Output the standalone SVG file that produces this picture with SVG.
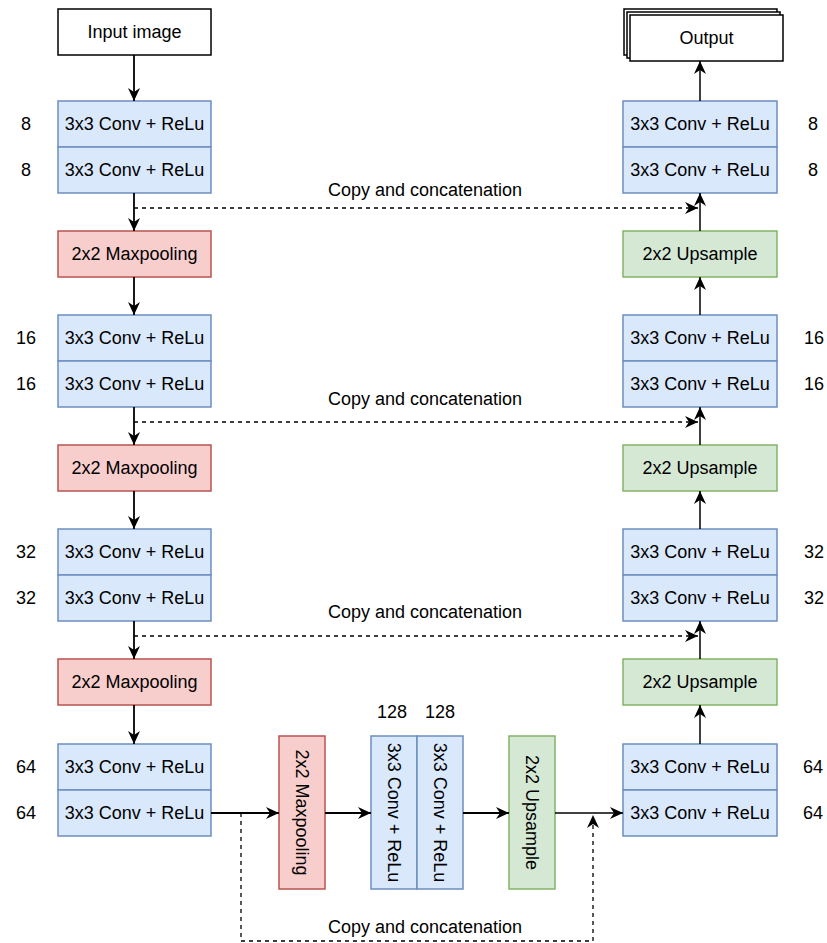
<svg xmlns="http://www.w3.org/2000/svg" width="827" height="943" viewBox="0 0 827 943">
<style>
text{font-family:"Liberation Sans",Arial,Helvetica,sans-serif;font-size:18px;fill:#000;text-anchor:middle;dominant-baseline:central}
.plain{fill:#fff;stroke:#000;stroke-width:1.5}
.blue{fill:#dae8fc;stroke:#6c8ebf;stroke-width:1.5}
.red{fill:#f8cecc;stroke:#b85450;stroke-width:1.5}
.green{fill:#d5e8d4;stroke:#82b366;stroke-width:1.5}
.ln{fill:none;stroke:#000;stroke-width:1.8}
.lnr{fill:none;stroke:#000;stroke-width:1.5}
.dash{fill:none;stroke:#000;stroke-width:1.3;stroke-dasharray:4 4}
</style>
<defs>
<marker id="arr" markerUnits="userSpaceOnUse" viewBox="0 0 14 14" markerWidth="14" markerHeight="14" refX="13" refY="7" orient="auto">
<path d="M0,1 L13,7 L0,13 L4,7 z" fill="#000"/>
</marker>
</defs>
<g id="input"><rect class="plain" x="58" y="9" width="153" height="46"/><text x="134.5" y="32">Input image</text></g>
<g id="output">
<rect class="plain" x="624" y="9" width="153" height="46"/>
<rect class="plain" x="627" y="12" width="153" height="46"/>
<rect class="plain" x="630" y="15" width="153" height="46"/>
<text x="706.5" y="38">Output</text></g>

<g id="enc1"><rect class="blue" x="58" y="101" width="153" height="46"/><text x="134.5" y="124">3x3 Conv + ReLu</text><rect class="blue" x="58" y="147" width="153" height="46"/><text x="134.5" y="170">3x3 Conv + ReLu</text><text x="26" y="124">8</text><text x="26" y="170">8</text></g>
<g id="pool1"><rect class="red" x="58" y="231" width="153" height="46"/><text x="134.5" y="254">2x2 Maxpooling</text></g>
<g id="enc2"><rect class="blue" x="58" y="315" width="153" height="46"/><text x="134.5" y="338">3x3 Conv + ReLu</text><rect class="blue" x="58" y="361" width="153" height="46"/><text x="134.5" y="384">3x3 Conv + ReLu</text><text x="26" y="338">16</text><text x="26" y="384">16</text></g>
<g id="pool2"><rect class="red" x="58" y="445" width="153" height="46"/><text x="134.5" y="468">2x2 Maxpooling</text></g>
<g id="enc3"><rect class="blue" x="58" y="529" width="153" height="46"/><text x="134.5" y="552">3x3 Conv + ReLu</text><rect class="blue" x="58" y="575" width="153" height="46"/><text x="134.5" y="598">3x3 Conv + ReLu</text><text x="26" y="552">32</text><text x="26" y="598">32</text></g>
<g id="pool3"><rect class="red" x="58" y="659" width="153" height="46"/><text x="134.5" y="682">2x2 Maxpooling</text></g>
<g id="enc4"><rect class="blue" x="58" y="744" width="153" height="46"/><text x="134.5" y="767">3x3 Conv + ReLu</text><rect class="blue" x="58" y="790" width="153" height="46"/><text x="134.5" y="813">3x3 Conv + ReLu</text><text x="26" y="767">64</text><text x="26" y="813">64</text></g>

<g id="pool4"><rect class="red" x="279" y="736" width="46" height="153"/><text x="302" y="812.5" transform="rotate(90 302 812.5)">2x2 Maxpooling</text></g>
<g id="bottleneck"><rect class="blue" x="371" y="736" width="46" height="153"/><rect class="blue" x="417" y="736" width="46" height="153"/><text x="394" y="812.5" transform="rotate(90 394 812.5)">3x3 Conv + ReLu</text><text x="440" y="812.5" transform="rotate(90 440 812.5)">3x3 Conv + ReLu</text><text x="392" y="712">128</text><text x="440" y="712">128</text></g>
<g id="up4"><rect class="green" x="509" y="736" width="46" height="153"/><text x="532" y="812.5" transform="rotate(90 532 812.5)">2x2 Upsample</text></g>

<g id="dec4"><rect class="blue" x="623" y="744" width="154" height="46"/><text x="700" y="767">3x3 Conv + ReLu</text><rect class="blue" x="623" y="790" width="154" height="46"/><text x="700" y="813">3x3 Conv + ReLu</text><text x="813" y="767">64</text><text x="813" y="813">64</text></g>
<g id="up3"><rect class="green" x="623" y="659" width="154" height="46"/><text x="700" y="682">2x2 Upsample</text></g>
<g id="dec3"><rect class="blue" x="623" y="529" width="154" height="46"/><text x="700" y="552">3x3 Conv + ReLu</text><rect class="blue" x="623" y="575" width="154" height="46"/><text x="700" y="598">3x3 Conv + ReLu</text><text x="814" y="552">32</text><text x="814" y="598">32</text></g>
<g id="up2"><rect class="green" x="623" y="445" width="154" height="46"/><text x="700" y="468">2x2 Upsample</text></g>
<g id="dec2"><rect class="blue" x="623" y="315" width="154" height="46"/><text x="700" y="338">3x3 Conv + ReLu</text><rect class="blue" x="623" y="361" width="154" height="46"/><text x="700" y="384">3x3 Conv + ReLu</text><text x="814" y="338">16</text><text x="814" y="384">16</text></g>
<g id="up1"><rect class="green" x="623" y="231" width="154" height="46"/><text x="700" y="254">2x2 Upsample</text></g>
<g id="dec1"><rect class="blue" x="623" y="101" width="154" height="46"/><text x="700" y="124">3x3 Conv + ReLu</text><rect class="blue" x="623" y="147" width="154" height="46"/><text x="700" y="170">3x3 Conv + ReLu</text><text x="813" y="124">8</text><text x="813" y="170">8</text></g>

<g id="connectors">
<path class="ln" d="M134,55 V101" marker-end="url(#arr)"/>
<path class="ln" d="M134,193 V231" marker-end="url(#arr)"/>
<path class="ln" d="M134,277 V315" marker-end="url(#arr)"/>
<path class="ln" d="M134,407 V445" marker-end="url(#arr)"/>
<path class="ln" d="M134,491 V529" marker-end="url(#arr)"/>
<path class="ln" d="M134,621 V659" marker-end="url(#arr)"/>
<path class="ln" d="M134,705 V744" marker-end="url(#arr)"/>
<path class="ln" d="M211,813 H279" marker-end="url(#arr)"/>
<path class="ln" d="M325,813 H371" marker-end="url(#arr)"/>
<path class="ln" d="M463,813 H509" marker-end="url(#arr)"/>
<path class="lnr" d="M555,813 H623" marker-end="url(#arr)"/>
<path class="lnr" d="M700,744 V705" marker-end="url(#arr)"/>
<path class="lnr" d="M700,659 V621" marker-end="url(#arr)"/>
<path class="lnr" d="M700,529 V491" marker-end="url(#arr)"/>
<path class="lnr" d="M700,445 V407" marker-end="url(#arr)"/>
<path class="lnr" d="M700,315 V277" marker-end="url(#arr)"/>
<path class="lnr" d="M700,231 V193" marker-end="url(#arr)"/>
<path class="lnr" d="M700,101 V61" marker-end="url(#arr)"/>
<path class="dash" d="M134,208 H698" marker-end="url(#arr)"/>
<path class="dash" d="M134,422 H698" marker-end="url(#arr)"/>
<path class="dash" d="M134,636 H698" marker-end="url(#arr)"/>
<path class="dash" d="M241,813 V941 H593 V815" marker-end="url(#arr)"/>
<text x="425" y="190">Copy and concatenation</text>
<text x="425" y="399">Copy and concatenation</text>
<text x="425" y="612">Copy and concatenation</text>
<text x="425" y="927">Copy and concatenation</text>
</g>
</svg>
